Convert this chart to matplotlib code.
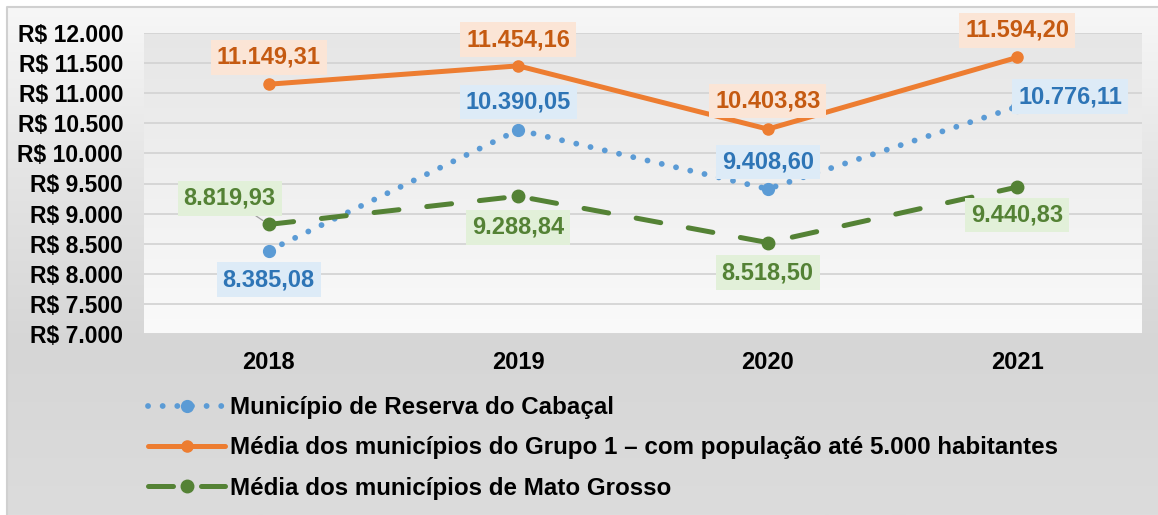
import numpy as np
import matplotlib
matplotlib.use("Agg")
import matplotlib.pyplot as plt
from matplotlib.colors import LinearSegmentedColormap
from matplotlib.ticker import FuncFormatter, MultipleLocator

plt.rcParams["font.family"] = ["Liberation Sans", "DejaVu Sans"]
plt.rcParams["font.weight"] = "bold"

# ── dados ─────────────────────────────────────────────────────────────────────
anos = ["2018", "2019", "2020", "2021"]
reserva = [8385.08, 10390.05, 9408.60, 10776.11]
grupo1 = [11149.31, 11454.16, 10403.83, 11594.20]
mato_grosso = [8819.93, 9288.84, 8518.50, 9440.83]

nomes = [
    "Município de Reserva do Cabaçal",
    "Média dos municípios do Grupo 1 – com população até 5.000 habitantes",
    "Média dos municípios de Mato Grosso",
]

# deslocamento dos rótulos (pixels: dx, dy para cima)
off_reserva = [(0, -29), (0, 28), (0, 27), (53, 10)]
off_grupo1 = [(0, 27), (0, 26), (0, 28), (0, 27)]
off_mt = [(-39, 26), (0, -31), (0, -30), (0, -28)]

AZUL, LARANJA, VERDE = "#5b9bd5", "#ed7d31", "#548235"


def fmt_br(v):
    return f"{v:,.2f}".replace(",", "X").replace(".", ",").replace("X", ".")


W, H = 1158, 515
fig = plt.figure(figsize=(W / 100, H / 100), dpi=100)
fig.patch.set_facecolor("white")

# ── fundo com degradê ─────────────────────────────────────────────────────────
bg = fig.add_axes([0, 0, 1, 1], zorder=0)
bg.set_xlim(0, W)
bg.set_ylim(H, 0)
bg.axis("off")
grad = np.linspace(0, 1, 256).reshape(-1, 1)
cm_out = LinearSegmentedColormap.from_list("out", ["#f7f7f7", "#e4e4e4", "#d6d6d6", "#dcdcdc"])
bg.imshow(grad, extent=(7, W, H, 7), cmap=cm_out, aspect="auto")
bg.plot([7, 7, W], [H, 7, 7], color="#d0d0d0", lw=1.5)

# ── área do gráfico ───────────────────────────────────────────────────────────
ax = fig.add_axes([144 / W, 1 - 334 / H, (1142 - 144) / W, (334 - 33) / H], zorder=1)
ax.set_facecolor("none")
cm_in = LinearSegmentedColormap.from_list("in", ["#fafafa", "#e6e6e6"])
ax.imshow(grad, extent=(0, 1, 1, 0), transform=ax.transAxes, cmap=cm_in,
          aspect="auto", zorder=0)

x = np.arange(len(anos))
ax.set_xlim(-0.5, len(anos) - 0.5)
ax.set_ylim(7000, 12000)
ax.yaxis.set_major_locator(MultipleLocator(500))
ax.yaxis.set_major_formatter(FuncFormatter(lambda v, p: "R$ " + f"{int(v):,}".replace(",", ".")))
ax.set_xticks(x)
ax.set_xticklabels(anos)
ax.tick_params(axis="both", length=0, colors="black")
ax.tick_params(axis="y", pad=15, labelsize=16.5)
ax.tick_params(axis="x", pad=12, labelsize=17)
ax.grid(axis="y", color="#d4d4d4", lw=1.3, zorder=1)
for s in ax.spines.values():
    s.set_visible(False)

l1, = ax.plot(x, reserva, color=AZUL, lw=4.2, linestyle=(0, (0.01, 2.5)),
              dash_capstyle="round", marker="o", ms=8.5, zorder=3)
l2, = ax.plot(x, grupo1, color=LARANJA, lw=3.6, solid_capstyle="round",
              marker="o", ms=8, zorder=3)
l3, = ax.plot(x, mato_grosso, color=VERDE, lw=3.6, linestyle=(0, (5.0, 5.6)),
              dash_capstyle="round", marker="o", ms=9, zorder=3)


def rotular(vals, offs, txtcor, fundo, guia=False):
    for xi, v, (dx, dy) in zip(x, vals, offs):
        seta = None
        if guia and abs(dx) > 30:
            seta = dict(arrowstyle="-", color="#a0a0a0", lw=0.9, shrinkA=0, shrinkB=5)
        ax.annotate(fmt_br(v), (xi, v), xytext=(dx * 0.72, dy * 0.72),
                    textcoords="offset points", ha="center", va="center",
                    fontsize=17, fontweight="bold", color=txtcor, zorder=5,
                    bbox=dict(boxstyle="square,pad=0.25", fc=fundo, ec="none"),
                    arrowprops=seta, annotation_clip=False)


rotular(reserva, off_reserva, "#2e75b6", "#ddebf7")
rotular(grupo1, off_grupo1, "#c55a11", "#fbe5d6")
rotular(mato_grosso, off_mt, VERDE, "#e2f0d9", guia=True)

# ── legenda ───────────────────────────────────────────────────────────────────
leg = ax.legend([l1, l2, l3], nomes, loc="upper left",
                bbox_to_anchor=(148 / W, 1 - 396 / H), bbox_transform=fig.transFigure,
                frameon=False, fontsize=17.4, handlelength=3.2, handletextpad=0.2,
                labelspacing=0.72, borderpad=0, borderaxespad=0)
for t in leg.get_texts():
    t.set_fontweight("bold")

fig.savefig("out.png", dpi=100)
